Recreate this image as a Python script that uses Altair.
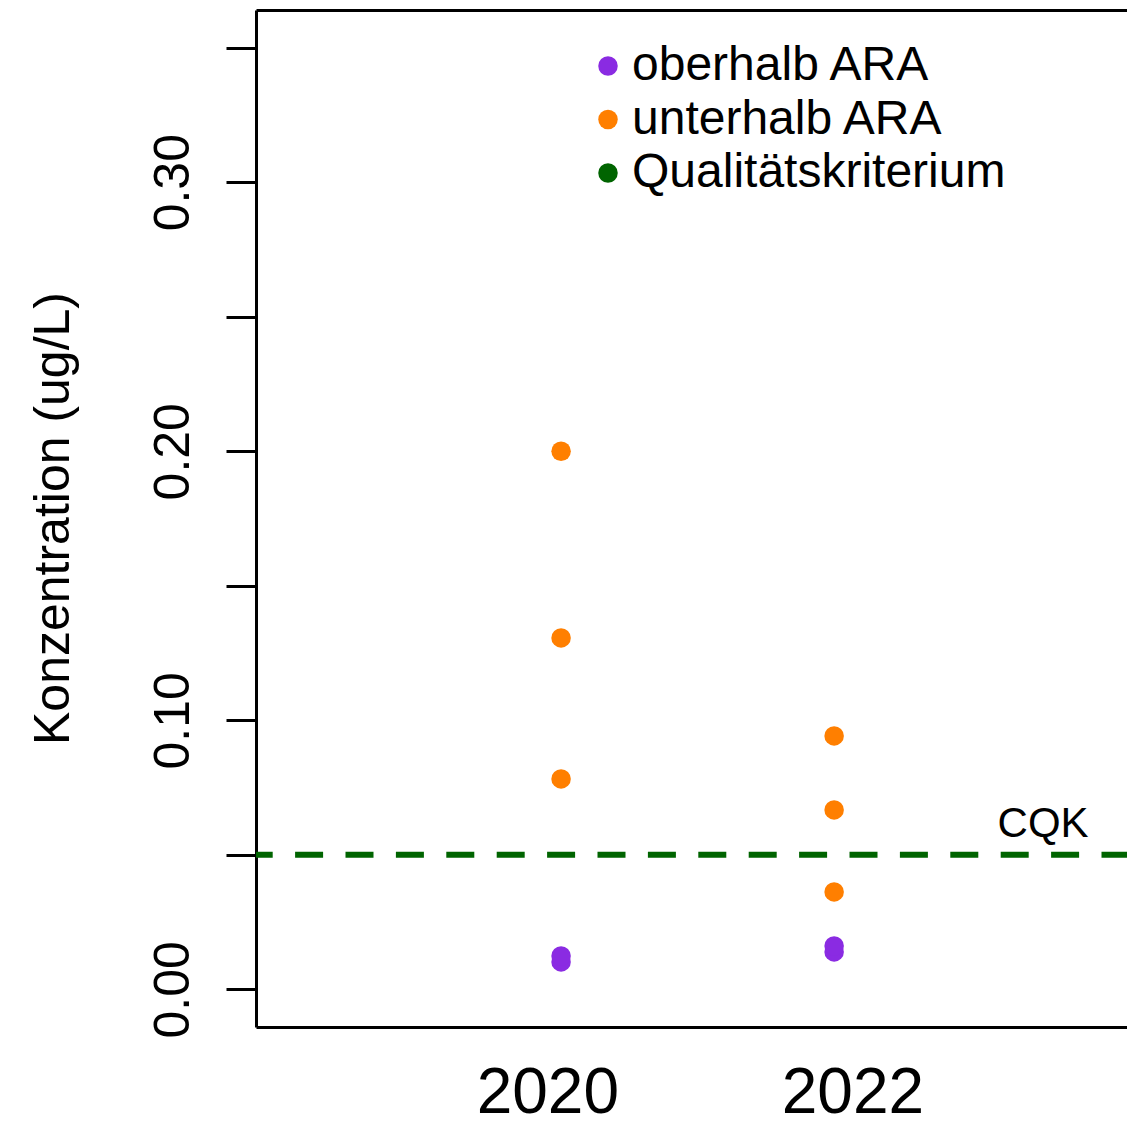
import altair as alt
import pandas as pd

FONT = "Liberation Sans"

# Sampling positions (decimal year) and measured concentrations (ug/L)
above_x = [2020.09, 2020.09, 2021.88, 2021.88]
above_y = [0.0102, 0.0124, 0.0139, 0.0161]
below_x = [2020.09, 2020.09, 2020.09, 2021.88, 2021.88, 2021.88]
below_y = [0.200, 0.1306, 0.0782, 0.0942, 0.0667, 0.0362]

series = ["oberhalb ARA", "unterhalb ARA", "Qualitätskriterium"]
colors = ["#8A2BE2", "#FF7F00", "#006400"]

year_ticks = [2020, 2022]
conc_ticks = [0.0, 0.05, 0.10, 0.15, 0.20, 0.25, 0.30, 0.35]

cqk_value = 0.05
cqk_label = "CQK"
cqk_label_x = 2023.25
cqk_label_y = 0.0565

df_points = pd.DataFrame({
    "jahr": above_x + below_x,
    "wert": above_y + below_y,
    "serie": [series[0]] * len(above_x) + [series[1]] * len(below_x),
})
df_cqk = pd.DataFrame({"wert": [cqk_value]})
df_cqk_label = pd.DataFrame({"jahr": [cqk_label_x], "wert": [cqk_label_y], "text": [cqk_label]})

x_scale = alt.Scale(domain=[2018.09, 2023.80], nice=False, zero=False)
y_scale = alt.Scale(domain=[-0.014, 0.364], nice=False, zero=False)

x_axis_bottom = alt.Axis(
    values=year_ticks, format="d", ticks=False, tickSize=0, grid=False,
    domain=True, domainColor="black", domainWidth=3,
    labelFont=FONT, labelFontSize=64, labelColor="black",
    labelBaseline="alphabetic", labelPadding=85,
    labelFlush=False, labelOverlap=False, title=None,
)
x_axis_top = alt.Axis(
    orient="top", ticks=False, labels=False, grid=False,
    domain=True, domainColor="black", domainWidth=3, title=None,
)
y_axis = alt.Axis(
    values=conc_ticks,
    labelExpr="(round(datum.value * 100) % 10 == 0) ? format(datum.value, '.2f') : ''",
    tickSize=30, tickWidth=3, tickColor="black",
    domain=True, domainColor="black", domainWidth=3, grid=False,
    labelFont=FONT, labelFontSize=50, labelColor="black",
    labelAngle=270, labelAlign="center", labelBaseline="alphabetic",
    labelPadding=38, labelOverlap=False, labelFlush=False,
    title="Konzentration (ug/L)", titleFont=FONT, titleFontSize=50,
    titleFontWeight="normal", titleColor="black", titleAngle=270,
    titleAlign="center", titleBaseline="alphabetic", titleX=-188, titleY=508,
)

legend = alt.Legend(
    orient="none", legendX=319, legendY=32, title=None, direction="vertical",
    symbolType="circle", symbolSize=380, symbolStrokeWidth=0, symbolOffset=9,
    labelFont=FONT, labelFontSize=48, labelColor="black", labelOffset=0,
    labelLimit=800, rowPadding=5.5, padding=0, offset=0,
)

points = alt.Chart(df_points).mark_circle(size=380, opacity=1).encode(
    x=alt.X("jahr:Q", scale=x_scale, axis=x_axis_bottom),
    y=alt.Y("wert:Q", scale=y_scale, axis=y_axis),
    color=alt.Color("serie:N", scale=alt.Scale(domain=series, range=colors), legend=legend),
)

cqk_line = alt.Chart(df_cqk).mark_rule(
    color="#006400", strokeWidth=6, strokeDash=[28, 22.4], strokeDashOffset=2.5
).encode(
    y=alt.Y("wert:Q", scale=y_scale),
)

cqk_text = alt.Chart(df_cqk_label).mark_text(
    font=FONT, fontSize=42, align="center", baseline="alphabetic", color="black"
).encode(
    x=alt.X("jahr:Q", scale=x_scale, axis=x_axis_top),
    y=alt.Y("wert:Q", scale=y_scale),
    text="text:N",
)

chart = (
    alt.layer(cqk_line, points, cqk_text)
    .resolve_axis(x="independent")
    .properties(
        width=871, height=1017,
        padding={"left": 256, "top": 10, "right": 0, "bottom": 94},
        autosize=alt.AutoSizeParams(type="none"),
        background="white",
    )
    .configure_view(stroke=None)
)

chart.save("out.html", embed_options={"renderer": "svg", "actions": False})
